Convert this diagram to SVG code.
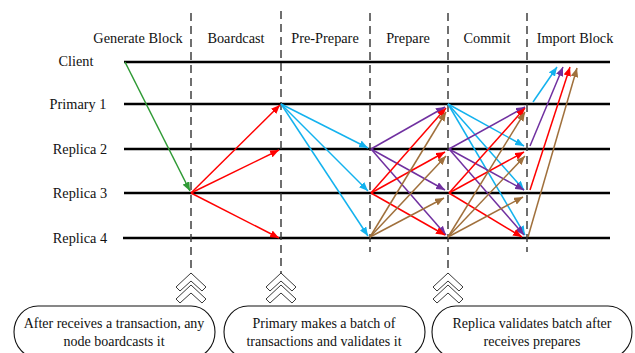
<svg xmlns="http://www.w3.org/2000/svg" width="635" height="353" viewBox="0 0 635 353">
  <style>
    text { font-family: "Liberation Serif", "Times New Roman", serif; fill: #111; }
    .hdr { font-size: 14.3px; text-anchor: middle; }
    .lbl { font-size: 14.3px; text-anchor: middle; }
    .note { font-size: 14px; text-anchor: middle; }
    .tl { stroke: #000; stroke-width: 2.6; }
    .ph { stroke: #333; stroke-width: 1.4; stroke-dasharray: 8 5; fill: none; }
    .a { stroke-width: 1.5; fill: none; }
    .g { stroke: #2f9a35; marker-end: url(#mg); }
    .r { stroke: #ff0000; marker-end: url(#mr); }
    .c { stroke: #13b2ee; marker-end: url(#mc); }
    .p { stroke: #7030a0; marker-end: url(#mp); }
    .b { stroke: #a0703c; marker-end: url(#mb); }
    .chev { fill: #fff; stroke: #222; stroke-width: 0.9; stroke-linejoin: miter; }
    .box { fill: #fff; stroke: #111; stroke-width: 1.1; }
  </style>
  <defs>
    <marker id="mg" viewBox="0 0 6 5" refX="6" refY="2.5" markerWidth="6" markerHeight="5" orient="auto"><path d="M0,0 L6,2.5 L0,5 z" fill="#2f9a35"/></marker>
    <marker id="mr" viewBox="0 0 6 5" refX="6" refY="2.5" markerWidth="6" markerHeight="5" orient="auto"><path d="M0,0 L6,2.5 L0,5 z" fill="#ff0000"/></marker>
    <marker id="mc" viewBox="0 0 6 5" refX="6" refY="2.5" markerWidth="6" markerHeight="5" orient="auto"><path d="M0,0 L6,2.5 L0,5 z" fill="#13b2ee"/></marker>
    <marker id="mp" viewBox="0 0 6 5" refX="6" refY="2.5" markerWidth="6" markerHeight="5" orient="auto"><path d="M0,0 L6,2.5 L0,5 z" fill="#7030a0"/></marker>
    <marker id="mb" viewBox="0 0 6 5" refX="6" refY="2.5" markerWidth="6" markerHeight="5" orient="auto"><path d="M0,0 L6,2.5 L0,5 z" fill="#a0703c"/></marker>
    <g id="chevrons">
      <polygon class="chev" points="0,0 15,14 11,18 0,8 -11,18 -15,14"/>
      <polygon class="chev" points="0,12 15,26 11,30 0,20 -11,30 -15,26"/>
    </g>
  </defs>

  <rect width="635" height="353" fill="#fff"/>

  <!-- phase headers -->
  <g id="headers">
    <text class="hdr" x="138" y="43">Generate Block</text>
    <text class="hdr" x="236" y="43">Boardcast</text>
    <text class="hdr" x="325" y="43">Pre-Prepare</text>
    <text class="hdr" x="408" y="43">Prepare</text>
    <text class="hdr" x="487" y="43">Commit</text>
    <text class="hdr" x="575" y="43">Import Block</text>
  </g>

  <!-- node timelines -->
  <g id="client"><text class="lbl" x="76" y="66">Client</text><line class="tl" x1="124" y1="62" x2="610" y2="62"/></g>
  <g id="primary1"><text class="lbl" x="78" y="109">Primary 1</text><line class="tl" x1="124" y1="104" x2="610" y2="104"/></g>
  <g id="replica2"><text class="lbl" x="80" y="154">Replica 2</text><line class="tl" x1="124" y1="149" x2="610" y2="149"/></g>
  <g id="replica3"><text class="lbl" x="80" y="198">Replica 3</text><line class="tl" x1="124" y1="193" x2="610" y2="193"/></g>
  <g id="replica4"><text class="lbl" x="80" y="243">Replica 4</text><line class="tl" x1="123" y1="238" x2="610" y2="238"/></g>

  <!-- phase separators -->
  <g id="separators">
    <line class="ph" x1="191" y1="13" x2="191" y2="276"/>
    <line class="ph" x1="281" y1="11" x2="281" y2="276"/>
    <line class="ph" x1="370" y1="13" x2="370" y2="252"/>
    <line class="ph" x1="448" y1="13" x2="448" y2="276"/>
    <line class="ph" x1="527" y1="13" x2="527" y2="252"/>
  </g>

  <!-- messages -->
  <g id="connectors" class="a">
    <!-- generate block -->
    <line class="a g" x1="125" y1="62" x2="190" y2="191"/>
    <!-- broadcast -->
    <line class="a r" x1="191" y1="193" x2="280" y2="105"/>
    <line class="a r" x1="191" y1="193" x2="279" y2="150"/>
    <line class="a r" x1="191" y1="193" x2="279" y2="238"/>
    <!-- pre-prepare -->
    <line class="a c" x1="281" y1="104" x2="368" y2="148"/>
    <line class="a c" x1="281" y1="104" x2="368" y2="191"/>
    <line class="a c" x1="281" y1="104" x2="368" y2="236"/>
    <!-- prepare -->
    <line class="a p" x1="371" y1="149" x2="445" y2="107"/>
    <line class="a p" x1="371" y1="149" x2="445" y2="190"/>
    <line class="a p" x1="371" y1="149" x2="446" y2="235"/>
    <line class="a r" x1="371" y1="193" x2="446" y2="108"/>
    <line class="a r" x1="371" y1="193" x2="445" y2="152"/>
    <line class="a r" x1="371" y1="193" x2="445" y2="235"/>
    <line class="a b" x1="370" y1="237" x2="446" y2="112"/>
    <line class="a b" x1="370" y1="237" x2="446" y2="156"/>
    <line class="a b" x1="370" y1="237" x2="444" y2="198"/>
    <!-- commit -->
    <line class="a c" x1="448" y1="104" x2="524" y2="146"/>
    <line class="a c" x1="448" y1="104" x2="524" y2="190"/>
    <line class="a c" x1="448" y1="104" x2="525" y2="235"/>
    <line class="a p" x1="449" y1="149" x2="525" y2="107"/>
    <line class="a p" x1="449" y1="149" x2="524" y2="190"/>
    <line class="a p" x1="449" y1="149" x2="524" y2="235"/>
    <line class="a r" x1="449" y1="193" x2="525" y2="108"/>
    <line class="a r" x1="449" y1="193" x2="524" y2="152"/>
    <line class="a r" x1="449" y1="193" x2="522" y2="237"/>
    <line class="a b" x1="448" y1="237" x2="525" y2="112"/>
    <line class="a b" x1="448" y1="237" x2="525" y2="156"/>
    <line class="a b" x1="448" y1="237" x2="523" y2="197"/>
    <!-- import block -->
    <line class="a c" x1="533" y1="102" x2="557" y2="67"/>
    <line class="a p" x1="530" y1="146" x2="563" y2="67"/>
    <line class="a r" x1="530" y1="190" x2="570" y2="67"/>
    <line class="a b" x1="528" y1="237" x2="577" y2="68"/>
  </g>

  <!-- pointers to the notes -->
  <use href="#chevrons" x="191" y="273"/>
  <use href="#chevrons" x="281" y="273"/>
  <use href="#chevrons" x="448" y="273"/>

  <!-- notes -->
  <g id="note1">
    <rect class="box" x="14" y="306" width="201" height="52" rx="24" ry="26"/>
    <text class="note" x="114" y="328">After receives a transaction, any</text>
    <text class="note" x="114" y="346">node boardcasts it</text>
  </g>
  <g id="note2">
    <rect class="box" x="224" y="306" width="201" height="52" rx="24" ry="26"/>
    <text class="note" x="324" y="328">Primary makes a batch of</text>
    <text class="note" x="324" y="346">transactions and validates it</text>
  </g>
  <g id="note3">
    <rect class="box" x="432" y="306" width="200" height="52" rx="24" ry="26"/>
    <text class="note" x="532" y="328">Replica validates batch after</text>
    <text class="note" x="532" y="346">receives prepares</text>
  </g>
</svg>
